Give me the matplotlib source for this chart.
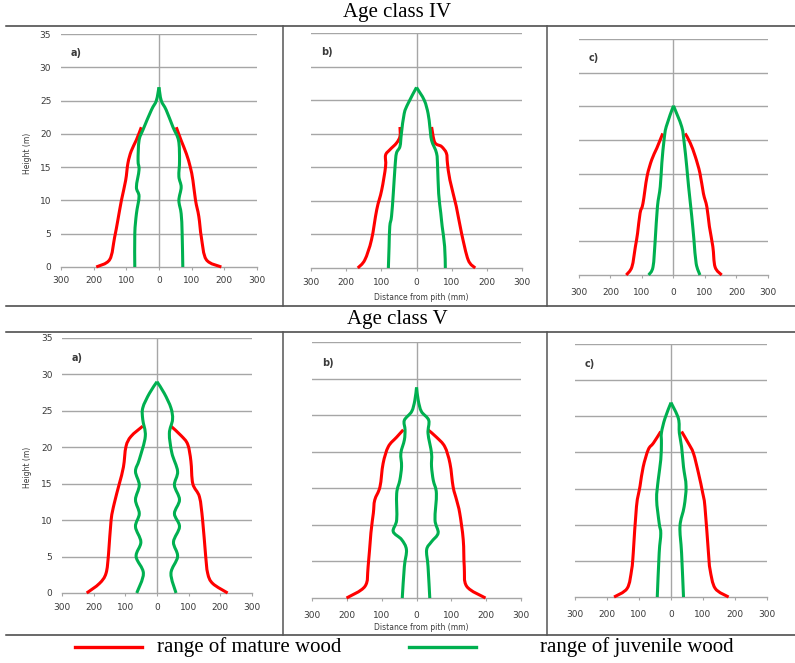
import matplotlib.pyplot as plt
from matplotlib.lines import Line2D
from matplotlib.path import Path
from matplotlib.patches import PathPatch
from matplotlib.ticker import FuncFormatter

# (distance from pith mm, height m)
iv_a_mature_left = [(-192, 0), (-151, 1.1), (-136, 4.4), (-126, 7), (-115, 10), (-102, 13),
                    (-95, 15.6), (-85, 17.4), (-69, 19.1), (-54, 21)]
iv_a_mature_right = [(191, 0), (145, 1.1), (130, 4.4), (122, 7.6), (112, 10), (104, 13),
                     (96, 15), (84, 17), (68, 19), (53, 21)]
iv_a_juvenile_left = [(-74, 0), (-74, 5), (-69, 8), (-61, 10.6), (-69, 12), (-61, 14.6),
                      (-64, 16), (-61, 19), (-49, 20.6), (-23, 23.6), (-8, 25), (0, 27)]
iv_a_juvenile_right = [(73, 0), (71, 5), (68, 8), (61, 10), (68, 12), (61, 13.6),
                       (63, 16), (60, 19), (43, 21), (22, 23.6), (7, 25), (0, 27)]

iv_b_mature_left = [(-167, 0), (-147, 1.2), (-128, 4.2), (-113, 8.7), (-99, 11.6), (-88, 15.1),
                    (-88, 16.8), (-76, 17.6), (-57, 18.6), (-47, 19.6), (-47, 21)]
iv_b_mature_right = [(167, 0), (147, 1.2), (128, 5.2), (113, 9.2), (95, 13.1), (88, 15.6),
                     (85, 17.1), (71, 18.1), (52, 18.7), (43, 21)]
iv_b_juvenile_left = [(-80, 0), (-78, 3.2), (-76, 6.2), (-71, 7.7), (-66, 11.1), (-61, 15.1),
                      (-57, 17.1), (-47, 18.1), (-43, 20), (-35, 23), (-24, 24.5), (0, 26.9)]
iv_b_juvenile_right = [(82, 0), (80, 3.2), (73, 6.2), (69, 8.2), (63, 11.1), (60, 15.1),
                       (57, 17.1), (43, 19), (38, 21), (33, 23), (22, 25), (0, 26.9)]

iv_c_mature_left = [(-150, 0), (-132, 1.2), (-121, 4.2), (-114, 6.2), (-106, 9.2), (-97, 10.6),
                    (-84, 14.6), (-69, 17.1), (-53, 18.8), (-34, 21)]
iv_c_mature_right = [(153, 0), (132, 1.2), (125, 4.2), (114, 7.2), (106, 10.1), (95, 12.1),
                     (84, 15.1), (69, 17.6), (53, 19.6), (37, 21)]
iv_c_juvenile_left = [(-79, 0), (-65, 1.2), (-58, 5.2), (-51, 10.1), (-42, 13.1), (-37, 16.6),
                      (-30, 20), (-23, 22), (0, 25.1)]
iv_c_juvenile_right = [(84, 0), (72, 1.7), (65, 5.2), (58, 8.7), (48, 13.1), (42, 16.1),
                       (34, 19.6), (26, 22), (0, 25.1)]

v_a_mature_left = [(-222, 0), (-182, 1.3), (-161, 2.7), (-153, 5.4), (-145, 10), (-135, 12.3),
                   (-119, 15), (-106, 17.3), (-98, 20.1), (-82, 21.5), (-45, 22.9)]
v_a_mature_right = [(223, 0), (176, 1.3), (160, 2.7), (153, 5.4), (144, 10), (134, 13.2),
                    (113, 15), (107, 18.1), (97, 20.4), (76, 21.6), (44, 22.9)]
v_a_juvenile_left = [(-64, 0), (-43, 2.7), (-66, 5), (-51, 7), (-68, 9.1), (-56, 10.9),
                     (-68, 12.8), (-56, 14.8), (-68, 16.7), (-56, 18.3), (-37, 21.5),
                     (-45, 23.8), (-45, 25.4), (-24, 27.4), (0, 29)]
v_a_juvenile_right = [(60, 0), (44, 2.7), (65, 5), (52, 7), (71, 9.1), (55, 10.9),
                      (71, 12.8), (55, 14.8), (65, 16.7), (47, 19.2), (39, 21.9),
                      (49, 23.8), (44, 25.4), (23, 27.4), (0, 29)]

v_b_mature_left = [(-201, 0), (-148, 1.6), (-139, 4.3), (-131, 8.9), (-124, 11.6), (-120, 13.4),
                   (-105, 15.2), (-96, 18.4), (-81, 20.7), (-57, 22), (-38, 23)]
v_b_mature_right = [(198, 0), (144, 1.6), (137, 4.3), (134, 8), (124, 11.6), (115, 13.4),
                    (105, 15.2), (96, 18.4), (81, 20.7), (57, 22), (33, 23)]
v_b_juvenile_left = [(-41, 0), (-35, 4.3), (-29, 6.6), (-43, 8), (-67, 9.1), (-57, 10.7),
                     (-57, 14.3), (-48, 16.1), (-43, 18), (-45, 19.8), (-35, 21.6),
                     (-33, 23), (-35, 24.3), (-14, 25.5), (-5, 27), (0, 28.8)]
v_b_juvenile_right = [(38, 0), (33, 4.3), (29, 6.6), (43, 7.7), (62, 8.9), (53, 10.7),
                      (57, 14.3), (48, 16.1), (43, 18), (43, 19.8), (33, 22.5),
                      (35, 24.3), (14, 25.5), (5, 27), (0, 28.8)]

v_c_mature_left = [(-178, 0), (-137, 1.2), (-123, 3.8), (-118, 6.1), (-108, 12.5), (-97, 15.3),
                   (-87, 18), (-71, 20.4), (-55, 21.3), (-32, 22.9)]
v_c_mature_right = [(180, 0), (138, 1.2), (122, 3.8), (117, 6.1), (106, 12.5), (99, 14.4),
                    (86, 17.1), (70, 19.9), (54, 21.3), (33, 22.9)]
v_c_juvenile_left = [(-43, 0), (-37, 6.1), (-32, 8.8), (-37, 10.2), (-45, 13.5), (-40, 16.2),
                     (-32, 19), (-30, 21.3), (-30, 22.7), (-19, 24.7), (0, 26.9)]
v_c_juvenile_right = [(39, 0), (33, 6.1), (28, 9.8), (41, 12.5), (47, 15.3), (39, 18),
                      (33, 20.8), (26, 22.7), (23, 24.7), (0, 26.9)]

x_ticks = [-300, -200, -100, 0, 100, 200, 300]
y_ticks = [0, 5, 10, 15, 20, 25, 30, 35]

ROJO = "#ff0000"
VERDE = "#00b050"
GRIS = "#a6a6a6"
TEXTO = "#3a3a3a"

# paneles: (posición en figura, letra, curvas, pad de etiquetas x, etiquetas y)
paneles = [
    ([0.0767, 0.5973, 0.2465, 0.3514], "a)", iv_a_mature_left, iv_a_mature_right,
     iv_a_juvenile_left, iv_a_juvenile_right, 4.0, True),
    ([0.3912, 0.5958, 0.2654, 0.3544], "b)", iv_b_mature_left, iv_b_mature_right,
     iv_b_juvenile_left, iv_b_juvenile_right, 5.0, False),
    ([0.7283, 0.5852, 0.2377, 0.3560], "c)", iv_c_mature_left, iv_c_mature_right,
     iv_c_juvenile_left, iv_c_juvenile_right, 7.0, False),
    ([0.0780, 0.1056, 0.2390, 0.3846], "a)", v_a_mature_left, v_a_mature_right,
     v_a_juvenile_left, v_a_juvenile_right, 4.5, True),
    ([0.3925, 0.0980, 0.2629, 0.3861], "b)", v_b_mature_left, v_b_mature_right,
     v_b_juvenile_left, v_b_juvenile_right, 6.5, False),
    ([0.7233, 0.0995, 0.2415, 0.3816], "c)", v_c_mature_left, v_c_mature_right,
     v_c_juvenile_left, v_c_juvenile_right, 7.0, False),
]


def linea_suave(ax, puntos, color):
    # línea suavizada tipo Excel: curvas de Bézier que pasan por los puntos
    n = len(puntos)
    verts = [puntos[0]]
    codes = [Path.MOVETO]
    for i in range(n - 1):
        p0 = puntos[max(i - 1, 0)]
        p1 = puntos[i]
        p2 = puntos[i + 1]
        p3 = puntos[min(i + 2, n - 1)]
        c1 = (p1[0] + (p2[0] - p0[0]) / 6, p1[1] + (p2[1] - p0[1]) / 6)
        c2 = (p2[0] - (p3[0] - p1[0]) / 6, p2[1] - (p3[1] - p1[1]) / 6)
        verts += [c1, c2, p2]
        codes += [Path.CURVE4] * 3
    ax.add_patch(PathPatch(Path(verts, codes), facecolor="none", edgecolor=color,
                           lw=2.2, joinstyle="round", capstyle="butt", zorder=3,
                           clip_on=False))


fig = plt.figure(figsize=(7.95, 6.63), dpi=100)

for pos, letra, ml, mr, jl, jr, pad_x, con_y in paneles:
    ax = fig.add_axes(pos)
    ax.set_xlim(-300, 300)
    ax.set_ylim(0, 35)
    for y in y_ticks[1:]:
        ax.axhline(y, color=GRIS, lw=1.0, zorder=1)
    ax.axvline(0, color=GRIS, lw=1.0, zorder=1)

    for curva, color in [(ml, ROJO), (mr, ROJO), (jl, VERDE), (jr, VERDE)]:
        linea_suave(ax, curva, color)

    for s in ["top", "right", "left"]:
        ax.spines[s].set_visible(False)
    ax.spines["bottom"].set_color(GRIS)
    ax.spines["bottom"].set_linewidth(1.0)

    ax.set_xticks(x_ticks)
    ax.xaxis.set_major_formatter(FuncFormatter(lambda v, p: f"{abs(int(v))}"))
    ax.tick_params(axis="x", direction="out", length=2.5, width=0.8, color=GRIS,
                   labelsize=6.5, labelcolor=TEXTO, pad=pad_x)
    ax.set_yticks(y_ticks)
    ax.tick_params(axis="y", length=0, labelsize=6.5, labelcolor=TEXTO, pad=7)
    if not con_y:
        ax.set_yticklabels([])
    ax.text(0.05, 0.92, letra, transform=ax.transAxes, fontsize=7,
            fontweight="bold", color=TEXTO, va="center", ha="left")

# estructura de tabla
W, H = 795, 663
def hline(py, x0=6, x1=795):
    fig.add_artist(Line2D([x0 / W, x1 / W], [1 - py / H, 1 - py / H],
                          color="#404040", lw=1.1))

def vline(px, y0, y1):
    fig.add_artist(Line2D([px / W, px / W], [1 - y0 / H, 1 - y1 / H],
                          color="#555555", lw=1.1))

for py in [26, 306, 332, 635]:
    hline(py)
for px in [283, 547]:
    vline(px, 26, 306)
    vline(px, 332, 635)

serif = ["Liberation Serif", "DejaVu Serif"]
fig.text(397 / W, 1 - 13 / H, "Age class IV", ha="center", va="center",
         fontsize=15, family=serif)
fig.text(397 / W, 1 - 319 / H, "Age class V", ha="center", va="center",
         fontsize=15, family=serif)

for py in [297, 628]:
    fig.text(421 / W, 1 - py / H, "Distance from pith (mm)", ha="center", va="center",
             fontsize=5.5, color=TEXTO)
for py in [153, 467]:
    fig.text(27 / W, 1 - py / H, "Height (m)", ha="center", va="center",
             fontsize=5.5, color=TEXTO, rotation=90)

# leyenda
ly = 1 - 647 / H
fig.add_artist(Line2D([75 / W, 142 / W], [ly, ly], color=ROJO, lw=2.4))
fig.add_artist(Line2D([409 / W, 476 / W], [ly, ly], color=VERDE, lw=2.4))
fig.text(157 / W, ly, "range of mature wood", ha="left", va="center",
         fontsize=15, family=serif)
fig.text(540 / W, ly, "range of juvenile wood", ha="left", va="center",
         fontsize=15, family=serif)

plt.savefig("out.png", dpi=100)
plt.close()
